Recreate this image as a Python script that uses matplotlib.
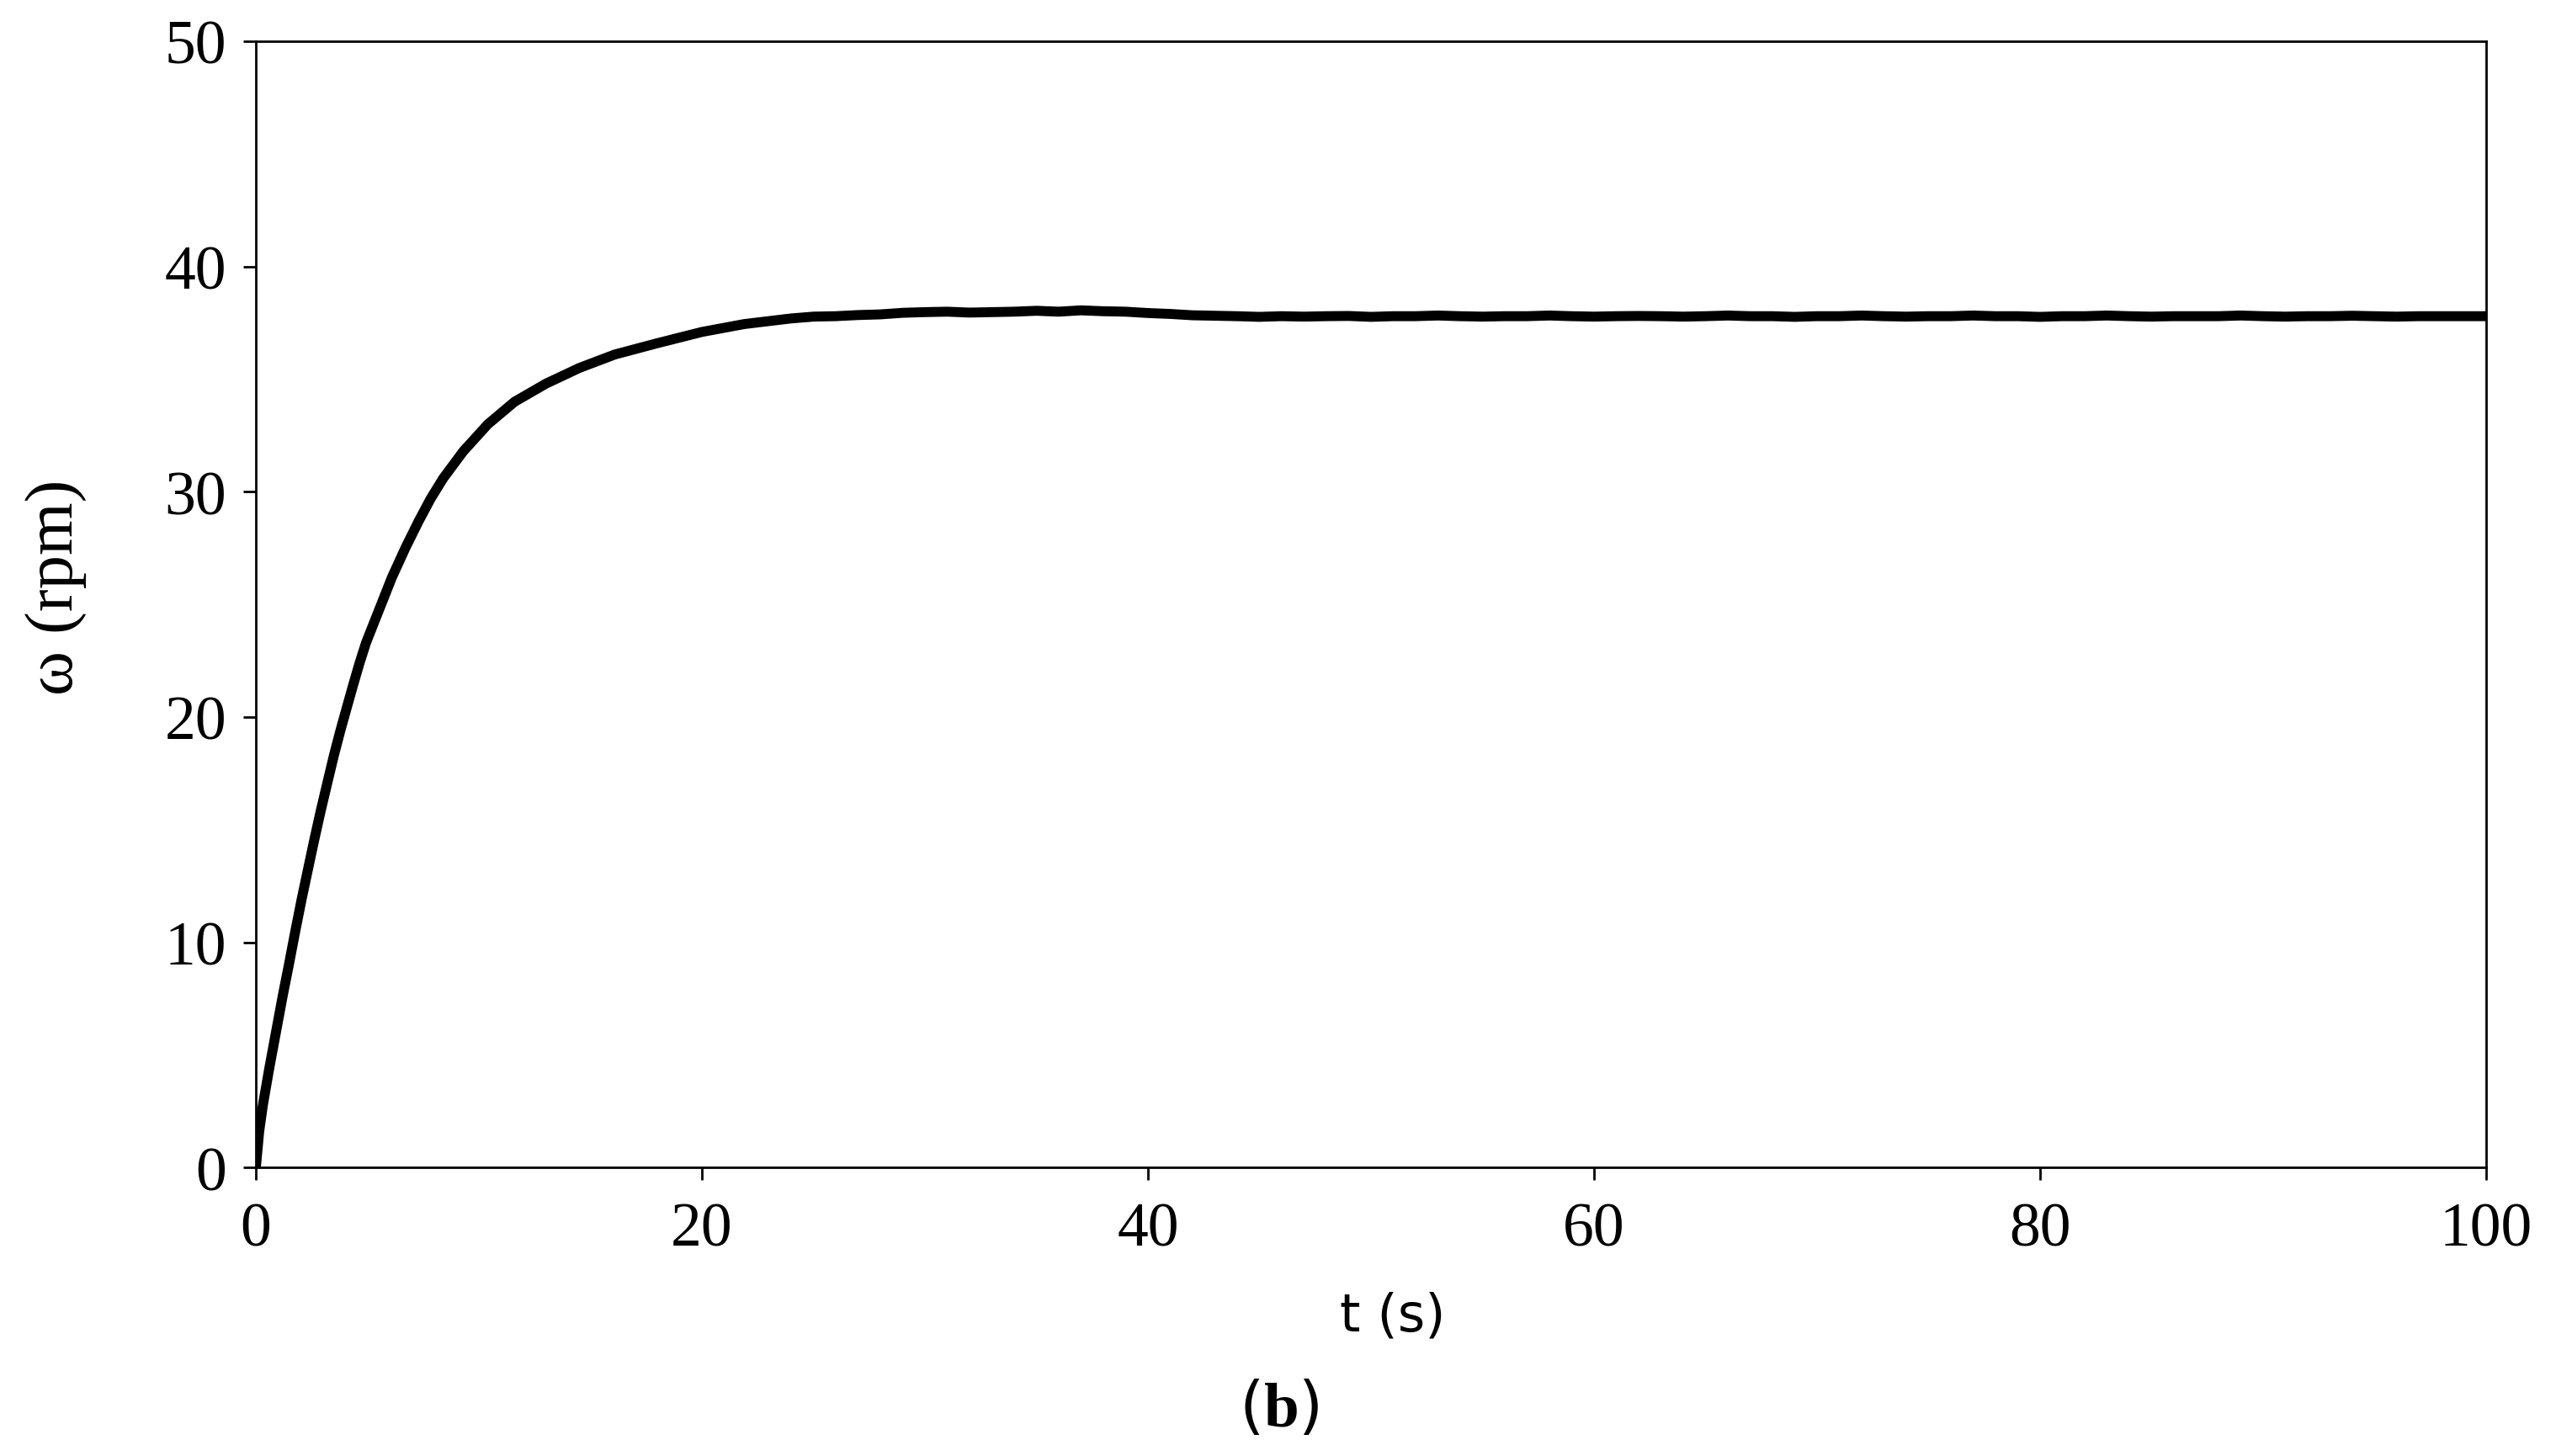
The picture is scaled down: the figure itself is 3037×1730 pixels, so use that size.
import matplotlib
matplotlib.use("Agg")
import matplotlib.pyplot as plt

# Rotational speed omega (rpm) vs time t (s)
t_rise = [0, 0.15, 0.32, 0.6, 0.9, 1.2, 1.48, 1.75, 2.05, 2.35, 2.63, 2.9,
          3.21, 3.5, 3.79, 4.1, 4.37, 4.65, 4.94, 5.5, 6.1, 6.7, 7.3, 7.84,
          8.4, 9.3, 10.4, 11.6, 13.0, 14.5, 16.1, 18.0, 20.0, 21.9, 24.0]
w_rise = [0, 1.6, 2.8, 4.4, 6.0, 7.6, 9.0, 10.4, 11.9, 13.3, 14.6, 15.8,
          17.1, 18.3, 19.4, 20.5, 21.45, 22.4, 23.3, 24.7, 26.2, 27.5, 28.7, 29.7,
          30.6, 31.8, 33.0, 34.0, 34.8, 35.5, 36.1, 36.6, 37.1, 37.45, 37.7]

t_flat = list(range(25, 101))
w_flat = [37.78, 37.8, 37.85, 37.88, 37.95, 37.98, 38.0, 37.96, 37.98, 38.0,
          38.04, 38.0, 38.06, 38.02, 38.0, 37.94, 37.9, 37.84, 37.82, 37.8,
          37.77, 37.8, 37.78, 37.8, 37.81, 37.77, 37.8, 37.8, 37.83, 37.8,
          37.78, 37.8, 37.8, 37.83, 37.8, 37.78, 37.8, 37.81, 37.8, 37.78,
          37.8, 37.83, 37.8, 37.8, 37.77, 37.8, 37.8, 37.83, 37.8, 37.78,
          37.8, 37.8, 37.83, 37.8, 37.8, 37.77, 37.8, 37.8, 37.83, 37.8,
          37.78, 37.8, 37.8, 37.8, 37.83, 37.8, 37.78, 37.8, 37.8, 37.82,
          37.8, 37.78, 37.8, 37.8, 37.8, 37.8]

t = t_rise + t_flat
w = w_rise + w_flat

x_ticks = [0, 20, 40, 60, 80, 100]
y_ticks = [0, 10, 20, 30, 40, 50]

plt.rcParams['mathtext.fontset'] = 'custom'
plt.rcParams['mathtext.rm'] = 'Liberation Serif'
plt.rcParams['mathtext.bf'] = 'Liberation Serif:bold'

fig = plt.figure(figsize=(30.37, 17.31), dpi=100)
ax = fig.add_axes([0.1001, 0.198, 0.8725, 0.773])

ax.plot(t, w, color="black", lw=8.5, solid_joinstyle="round")

ax.set_xlim(0, 100)
ax.set_ylim(0, 50)
ax.set_xticks(x_ticks)
ax.set_yticks(y_ticks)
for s in ax.spines.values():
    s.set_linewidth(2.0)
ax.tick_params(direction="out", length=11, width=2.0, labelsize=53)
ax.tick_params(axis="x", pad=18)
ax.tick_params(axis="y", pad=14)
for lab in ax.get_xticklabels() + ax.get_yticklabels():
    lab.set_family("Liberation Serif")

fig.text(0.545, 0.0962, "t (s)", fontsize=45, family="DejaVu Sans",
         ha="center", va="center")
fig.text(0.0223, 0.597, "ω (rpm)", fontsize=58, family="Liberation Serif",
         rotation=90, ha="center", va="center")
fig.text(0.5006, 0.0324, r"($\mathbf{b}$)", fontsize=54,
         ha="center", va="center")

fig.savefig("out.png", dpi=100)
